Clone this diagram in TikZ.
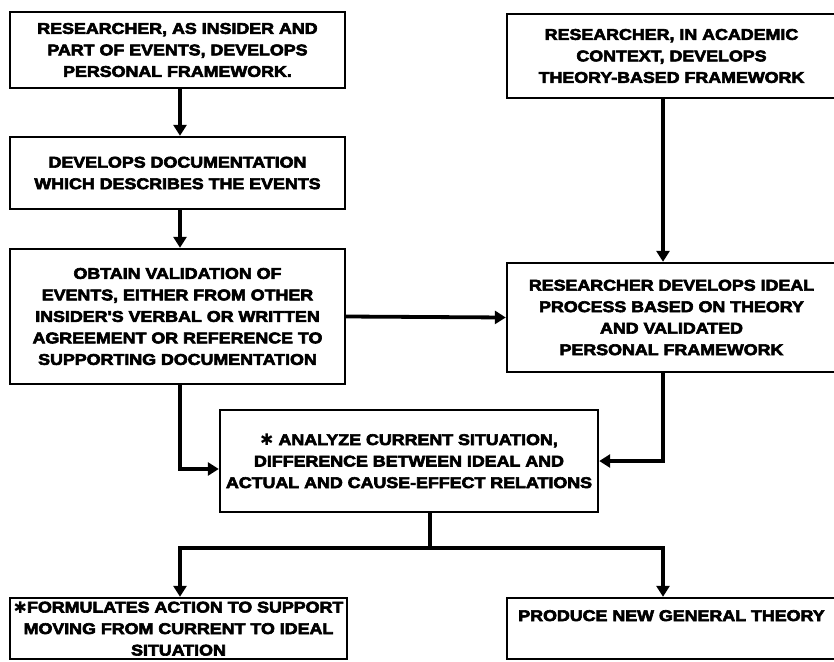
\documentclass[tikz,border=0pt]{standalone}
\usepackage{fontspec}
\newfontfamily\heavy[FakeBold=4,FakeStretch=1.15]{Liberation Sans Bold}
\newfontfamily\starfont{DejaVu Sans Bold}
\usetikzlibrary{arrows.meta,calc}
\newcommand{\keystar}{\raisebox{-0.5pt}{\starfont\fontsize{16}{16}\selectfont ✱}}
\begin{document}
\begin{tikzpicture}[x=1pt,y=-1pt,
  box/.style={draw,line width=2.4pt,rectangle,inner sep=0pt,align=center,
    font=\heavy\fontsize{15.5}{21.5}\selectfont},
  link/.style={line width=3.8pt,-{Triangle[width=13pt,length=11pt]}},
  plain/.style={line width=3.8pt}]
\useasboundingbox (0,0) rectangle (834,661);
\clip (0,0) rectangle (834,661);

% left column
\node[box,minimum width=335pt,minimum height=76pt] (A) at (177.5,50)
  {RESEARCHER, AS INSIDER AND\\PART OF EVENTS, DEVELOPS\\PERSONAL FRAMEWORK.};
\node[box,minimum width=335pt,minimum height=72pt] (B) at (177.5,173)
  {DEVELOPS DOCUMENTATION\\WHICH DESCRIBES THE EVENTS};
\node[box,minimum width=335pt,minimum height=135pt] (C) at (177.5,316.5)
  {OBTAIN VALIDATION OF\\EVENTS, EITHER FROM OTHER\\INSIDER'S VERBAL OR WRITTEN\\AGREEMENT OR REFERENCE TO\\SUPPORTING DOCUMENTATION};

% right column (boxes run past the right edge)
\node[box,minimum width=329pt,minimum height=84pt] (E) at (671.5,56)
  {RESEARCHER, IN ACADEMIC\\CONTEXT, DEVELOPS\\THEORY-BASED FRAMEWORK};
\node[box,minimum width=329pt,minimum height=109pt] (D) at (671.5,317.5)
  {RESEARCHER DEVELOPS IDEAL\\PROCESS BASED ON THEORY\\AND VALIDATED\\PERSONAL FRAMEWORK};

% analysis box
\node[box,minimum width=378pt,minimum height=102pt] (F) at (409,461)
  {\keystar\ ANALYZE CURRENT SITUATION,\\DIFFERENCE BETWEEN IDEAL AND\\ACTUAL AND CAUSE-EFFECT RELATIONS};

% outcomes
\node[box,minimum width=337pt,minimum height=61pt] (G) at (178.5,628.5)
  {\keystar FORMULATES ACTION TO SUPPORT\\MOVING FROM CURRENT TO IDEAL\\SITUATION};
\node[box,minimum width=329pt,text height=23pt,text depth=38pt] (H) at (671.5,628.5)
  {PRODUCE NEW GENERAL THEORY};

\coordinate (colL) at (180,0);
\coordinate (colR) at (663,0);
\coordinate (fork) at (430,548);

% connectors
\draw[link] (A.south -| colL) -- (B.north -| colL);
\draw[link] (B.south -| colL) -- (C.north -| colL);
\draw[link] (E.south -| colR) -- (D.north -| colR);
\draw[link] (C.east) -- (D.west);
\draw[link] (C.south -| colL) |- ([yshift=-8pt]F.west);
\draw[link] (D.south -| colR) |- (F.east);
\draw[plain] (F.south -| fork) -- (fork);
\draw[link] (fork) -| (G.north -| colL);
\draw[link] (fork) -| (H.north -| colR);
\end{tikzpicture}
\end{document}
